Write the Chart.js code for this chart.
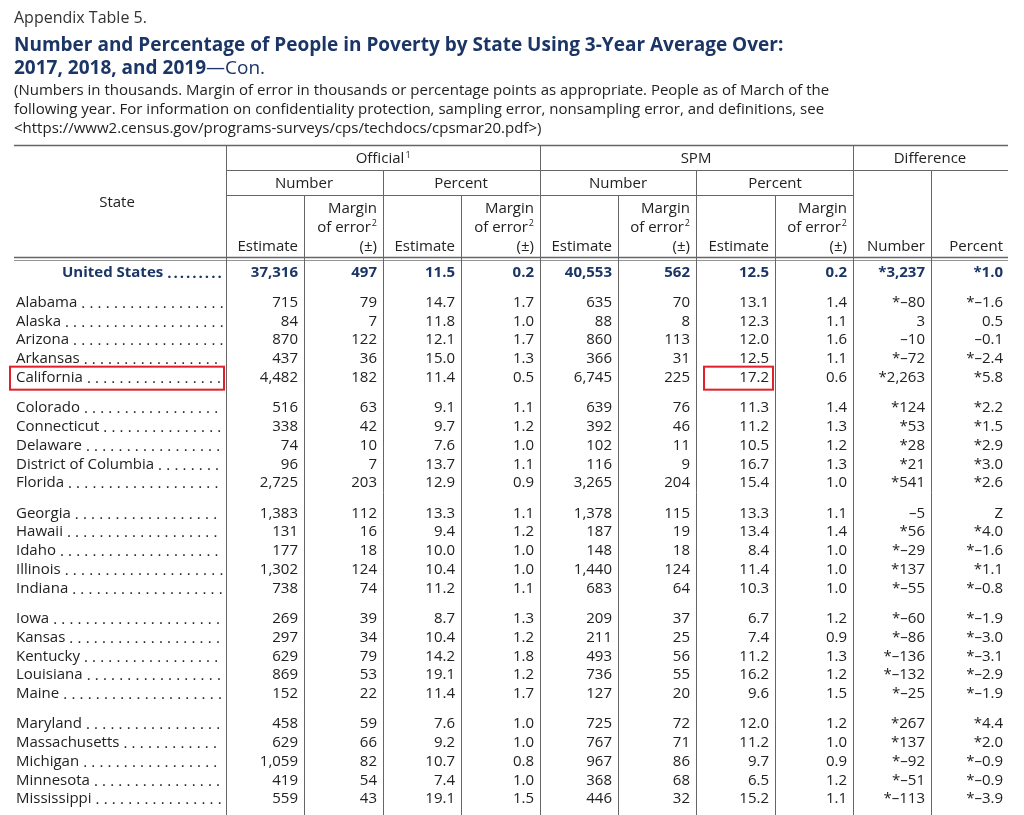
<!DOCTYPE html>
<html>
<head>
<meta charset="utf-8">
<script src="https://cdn.jsdelivr.net/npm/chart.js@4.4.1/dist/chart.umd.min.js"></script>
<style>
  body { margin: 0; background: #fff; font-family: "Open Sans", "Noto Sans", sans-serif; color: #222; }
  #wrap { position: relative; width: 1024px; height: 815px; overflow: hidden; }
  canvas { position: absolute; left: 0; top: 0; }
  .t { position: absolute; left: 14px; white-space: nowrap; }
  .h { color: #1b3566; font-weight: bold; font-size: 19px; }
</style>
</head>
<body>
<div id="wrap">
  <canvas id="tableChart" width="1024" height="815"></canvas>
  <div class="t" style="top:6px;font-size:16px;color:#333">Appendix Table 5.</div>
  <div class="t h" style="top:31px">Number and Percentage of People in Poverty by State Using 3-Year Average Over:</div>
  <div class="t h" style="top:54px">2017, 2018, and 2019<span style="font-weight:normal">—Con.</span></div>
  <div class="t" style="top:80px;font-size:15px;line-height:19px">(Numbers in thousands. Margin of error in thousands or percentage points as appropriate. People as of March of the<br>following year. For information on confidentiality protection, sampling error, nonsampling error, and definitions, see<br>&lt;https://www2.census.gov/programs-surveys/cps/techdocs/cpsmar20.pdf&gt;)</div>
</div>
<script>
// rows: first is the US total, then states in groups of five
let states = ["United States", "Alabama", "Alaska", "Arizona", "Arkansas", "California",
    "Colorado", "Connecticut", "Delaware", "District of Columbia", "Florida",
    "Georgia", "Hawaii", "Idaho", "Illinois", "Indiana",
    "Iowa", "Kansas", "Kentucky", "Louisiana", "Maine",
    "Maryland", "Massachusetts", "Michigan", "Minnesota", "Mississippi"];
let officialNumber = ["37,316", "715", "84", "870", "437", "4,482", "516", "338", "74", "96", "2,725", "1,383", "131", "177", "1,302", "738", "269", "297", "629", "869", "152", "458", "629", "1,059", "419", "559"];
let officialNumberMoe = ["497", "79", "7", "122", "36", "182", "63", "42", "10", "7", "203", "112", "16", "18", "124", "74", "39", "34", "79", "53", "22", "59", "66", "82", "54", "43"];
let officialPercent = ["11.5", "14.7", "11.8", "12.1", "15.0", "11.4", "9.1", "9.7", "7.6", "13.7", "12.9", "13.3", "9.4", "10.0", "10.4", "11.2", "8.7", "10.4", "14.2", "19.1", "11.4", "7.6", "9.2", "10.7", "7.4", "19.1"];
let officialPercentMoe = ["0.2", "1.7", "1.0", "1.7", "1.3", "0.5", "1.1", "1.2", "1.0", "1.1", "0.9", "1.1", "1.2", "1.0", "1.0", "1.1", "1.3", "1.2", "1.8", "1.2", "1.7", "1.0", "1.0", "0.8", "1.0", "1.5"];
let spmNumber = ["40,553", "635", "88", "860", "366", "6,745", "639", "392", "102", "116", "3,265", "1,378", "187", "148", "1,440", "683", "209", "211", "493", "736", "127", "725", "767", "967", "368", "446"];
let spmNumberMoe = ["562", "70", "8", "113", "31", "225", "76", "46", "11", "9", "204", "115", "19", "18", "124", "64", "37", "25", "56", "55", "20", "72", "71", "86", "68", "32"];
let spmPercent = ["12.5", "13.1", "12.3", "12.0", "12.5", "17.2", "11.3", "11.2", "10.5", "16.7", "15.4", "13.3", "13.4", "8.4", "11.4", "10.3", "6.7", "7.4", "11.2", "16.2", "9.6", "12.0", "11.2", "9.7", "6.5", "15.2"];
let spmPercentMoe = ["0.2", "1.4", "1.1", "1.6", "1.1", "0.6", "1.4", "1.3", "1.2", "1.3", "1.0", "1.1", "1.4", "1.0", "1.0", "1.0", "1.2", "0.9", "1.3", "1.2", "1.5", "1.2", "1.0", "0.9", "1.2", "1.1"];
let diffNumber = ["*3,237", "*–80", "3", "–10", "*–72", "*2,263", "*124", "*53", "*28", "*21", "*541", "–5", "*56", "*–29", "*137", "*–55", "*–60", "*–86", "*–136", "*–132", "*–25", "*267", "*137", "*–92", "*–51", "*–113"];
let diffPercent = ["*1.0", "*–1.6", "0.5", "–0.1", "*–2.4", "*5.8", "*2.2", "*1.5", "*2.9", "*3.0", "*2.6", "Z", "*4.0", "*–1.6", "*1.1", "*–0.8", "*–1.9", "*–3.0", "*–3.1", "*–2.9", "*–1.9", "*4.4", "*2.0", "*–0.9", "*–0.9", "*–3.9"];

let columns = [officialNumber, officialNumberMoe, officialPercent, officialPercentMoe,
    spmNumber, spmNumberMoe, spmPercent, spmPercentMoe, diffNumber, diffPercent];
let colRight = [298, 377, 455, 534, 612, 690, 769, 847, 925, 1003];
let highlighted = [[5, -1], [5, 6]]; // California label and its SPM percent

// row position in row units: US above, then groups of five with a gap
function rowPos(i) {
    if (i === 0) return -1.6;
    let k = i - 1;
    return Math.floor(k / 5) * 5.616 + (k % 5);
}

const FONT = '15px "Open Sans", "Noto Sans", sans-serif';
const BOLD = 'bold 15px "Open Sans", "Noto Sans", sans-serif';

const tablePlugin = {
    id: 'tablePlugin',
    afterDraw(chart) {
        let ctx = chart.ctx;
        let x = chart.scales.x, y = chart.scales.y;
        let X = v => x.getPixelForValue(v);
        ctx.save();
        // grid lines
        ctx.strokeStyle = '#666';
        function line(x1, y1, x2, y2, w) {
            ctx.lineWidth = w || 1;
            ctx.beginPath(); ctx.moveTo(x1, y1); ctx.lineTo(x2, y2); ctx.stroke();
        }
        line(14, 145.5, 1008, 145.5, 1.5);
        line(226, 170.5, 1008, 170.5);
        line(226, 195.5, 853, 195.5);
        line(14, 257.5, 1008, 257.5, 1.5);
        line(14, 260.5, 1008, 260.5, 0.7);
        [[226, 145], [540, 145], [853, 145], [383, 170], [696, 170], [931, 170],
         [304, 195], [461, 195], [618, 195], [775, 195]].forEach(v => line(v[0] + 0.5, v[1], v[0] + 0.5, 815));

        // headers
        ctx.fillStyle = '#222';
        ctx.font = FONT;
        ctx.textBaseline = 'middle';
        ctx.textAlign = 'center';
        ctx.fillText('State', 117, 203);
        ctx.fillText('Official', 380, 159);
        ctx.font = '9px "Open Sans", sans-serif';
        ctx.fillText('1', 408, 155);
        ctx.font = FONT;
        ctx.fillText('SPM', 696, 159);
        ctx.fillText('Difference', 930, 159);
        [[304, 'Number'], [461, 'Percent'], [618, 'Number'], [775, 'Percent']].forEach(h => ctx.fillText(h[1], h[0], 184));
        ctx.textAlign = 'right';
        [298, 455, 612, 769].forEach(r => ctx.fillText('Estimate', r, 247));
        [377, 534, 690, 847].forEach(r => {
            ctx.fillText('Margin', r, 209);
            ctx.fillText('of error', r - 6, 228);
            ctx.font = '9px "Open Sans", sans-serif';
            ctx.fillText('2', r, 223);
            ctx.font = FONT;
            ctx.fillText('(±)', r, 247);
        });
        ctx.fillText('Number', 925, 247);
        ctx.fillText('Percent', 1003, 247);

        // body rows
        states.forEach((name, i) => {
            let py = y.getPixelForValue(rowPos(i));
            let us = i === 0;
            ctx.font = us ? BOLD : FONT;
            ctx.fillStyle = us ? '#1b3566' : '#222';
            ctx.textAlign = 'left';
            let nx = us ? 62 : 16;
            ctx.fillText(name, nx, py);
            let end = nx + ctx.measureText(name).width + 4;
            let dot = ctx.measureText('.').width + (us ? 2 : 4.2);
            for (let d = end; d < 220; d += dot) ctx.fillText('.', d, py + 1);
            ctx.textAlign = 'right';
            columns.forEach((col, c) => ctx.fillText(col[i], X(colRight[c]), py));
        });

        // red highlight boxes
        ctx.strokeStyle = '#e0202a';
        ctx.lineWidth = 2;
        highlighted.forEach(h => {
            let py = y.getPixelForValue(rowPos(h[0]));
            if (h[1] < 0) ctx.strokeRect(10, py - 11, 214, 23);
            else ctx.strokeRect(704, py - 11, 69, 23);
        });
        ctx.restore();
    }
};

new Chart(document.getElementById('tableChart').getContext('2d'), {
    type: 'scatter',
    data: {
        datasets: [{
            data: states.map((s, i) => ({ x: colRight[6], y: rowPos(i) })),
            pointRadius: 0
        }]
    },
    options: {
        responsive: false,
        animation: false,
        layout: { padding: 0 },
        plugins: { legend: { display: false }, tooltip: { enabled: false } },
        scales: {
            x: { type: 'linear', min: 0, max: 1024, display: false },
            y: { type: 'linear', min: -16.13, max: 27.31, reverse: true, display: false }
        }
    },
    plugins: [tablePlugin]
});
</script>
</body>
</html>
